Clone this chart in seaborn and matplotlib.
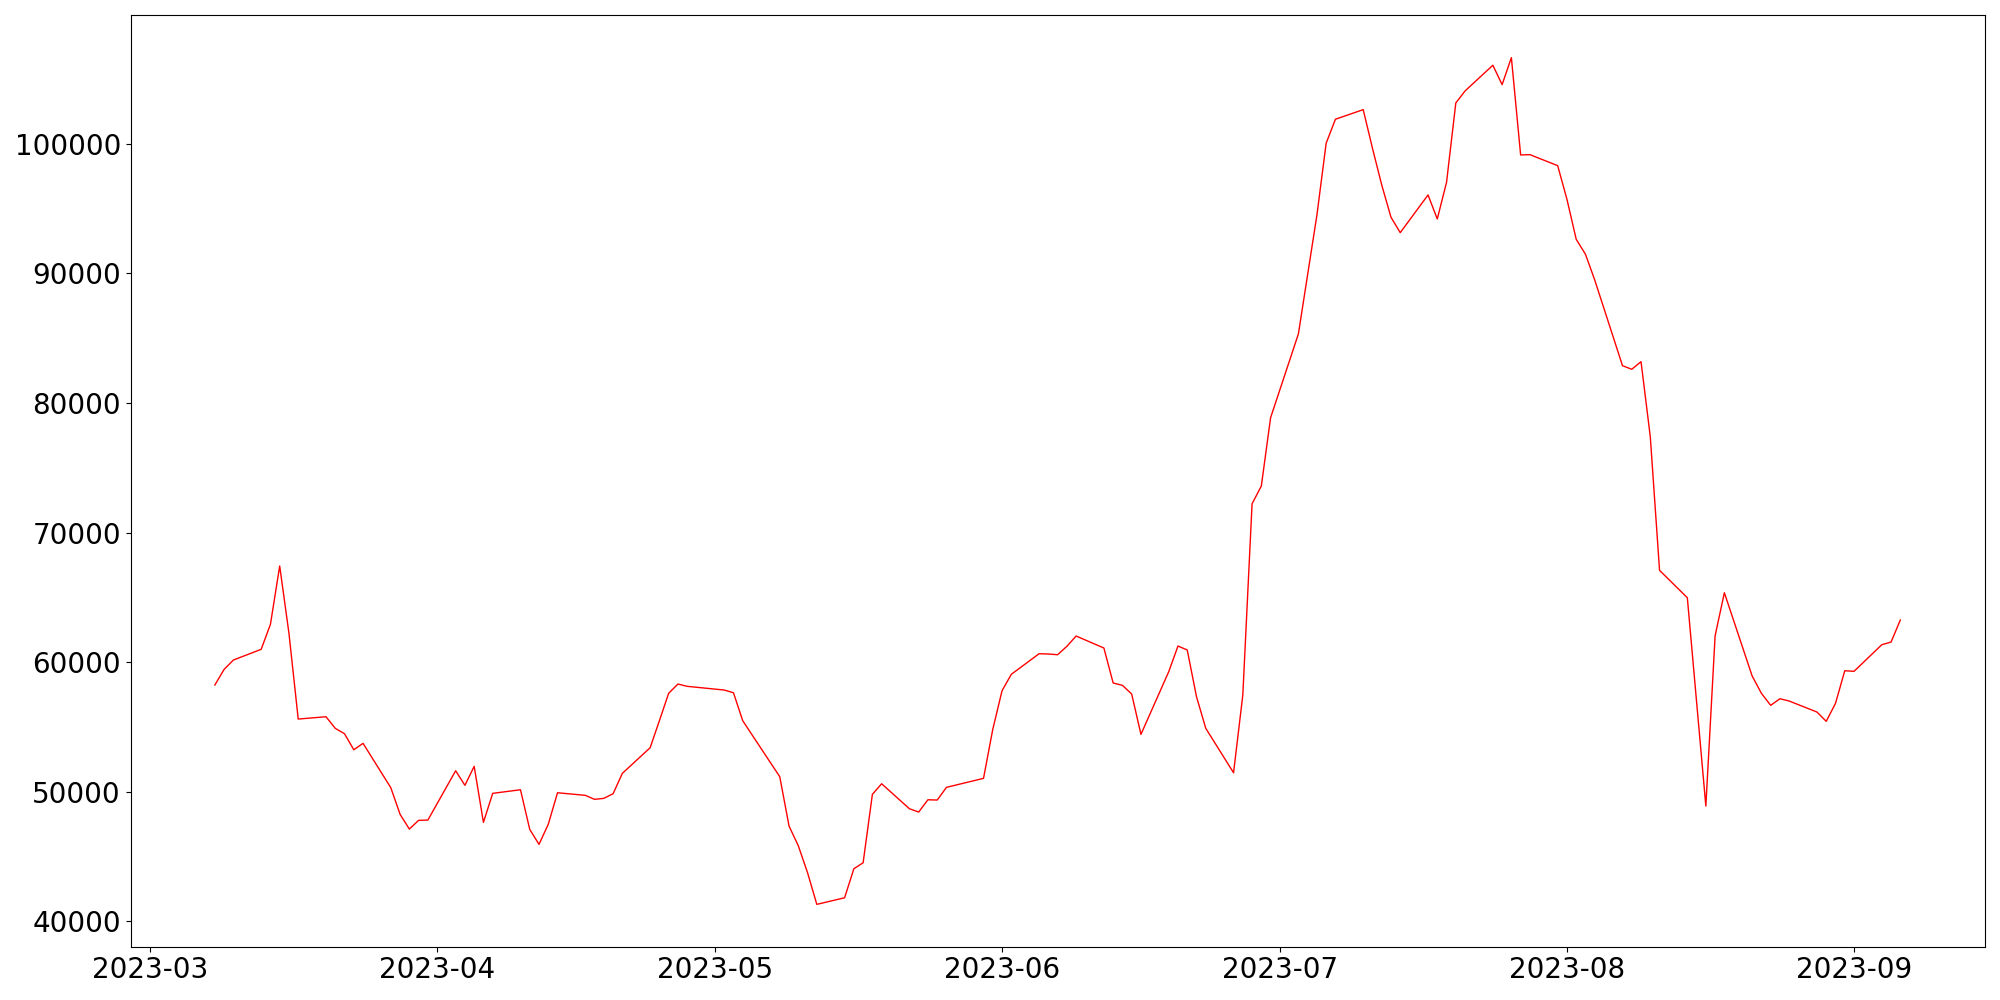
import matplotlib
matplotlib.use("Agg")
import matplotlib.pyplot as plt
import seaborn as sns
import pandas as pd

dates = [
    "2023-03-08", "2023-03-09", "2023-03-10", "2023-03-13", "2023-03-14", "2023-03-15",
    "2023-03-16", "2023-03-17", "2023-03-20", "2023-03-21", "2023-03-22", "2023-03-23",
    "2023-03-24", "2023-03-27", "2023-03-28", "2023-03-29", "2023-03-30", "2023-03-31",
    "2023-04-03", "2023-04-04", "2023-04-05", "2023-04-06", "2023-04-07", "2023-04-10",
    "2023-04-11", "2023-04-12", "2023-04-13", "2023-04-14", "2023-04-17", "2023-04-18",
    "2023-04-19", "2023-04-20", "2023-04-21", "2023-04-24", "2023-04-25", "2023-04-26",
    "2023-04-27", "2023-04-28", "2023-05-02", "2023-05-03", "2023-05-04", "2023-05-08",
    "2023-05-09", "2023-05-10", "2023-05-11", "2023-05-12", "2023-05-15", "2023-05-16",
    "2023-05-17", "2023-05-18", "2023-05-19", "2023-05-22", "2023-05-23", "2023-05-24",
    "2023-05-25", "2023-05-26", "2023-05-30", "2023-05-31", "2023-06-01", "2023-06-02",
    "2023-06-05", "2023-06-06", "2023-06-07", "2023-06-08", "2023-06-09", "2023-06-12",
    "2023-06-13", "2023-06-14", "2023-06-15", "2023-06-16", "2023-06-19", "2023-06-20",
    "2023-06-21", "2023-06-22", "2023-06-23", "2023-06-26", "2023-06-27", "2023-06-28",
    "2023-06-29", "2023-06-30", "2023-07-03", "2023-07-05", "2023-07-06", "2023-07-07",
    "2023-07-10", "2023-07-11", "2023-07-12", "2023-07-13", "2023-07-14", "2023-07-17",
    "2023-07-18", "2023-07-19", "2023-07-20", "2023-07-21", "2023-07-24", "2023-07-25",
    "2023-07-26", "2023-07-27", "2023-07-28", "2023-07-31", "2023-08-01", "2023-08-02",
    "2023-08-03", "2023-08-04", "2023-08-07", "2023-08-08", "2023-08-09", "2023-08-10",
    "2023-08-11", "2023-08-14", "2023-08-16", "2023-08-17", "2023-08-18", "2023-08-21",
    "2023-08-22", "2023-08-23", "2023-08-24", "2023-08-25", "2023-08-28", "2023-08-29",
    "2023-08-30", "2023-08-31", "2023-09-01", "2023-09-04", "2023-09-05", "2023-09-06",
]

values = [
    58224, 59436, 60154, 60981, 62911, 67413,
    62216, 55598, 55776, 54880, 54463, 53228,
    53722, 50293, 48239, 47104, 47776, 47799,
    51606, 50479, 51946, 47622, 49861, 50139,
    47081, 45923, 47467, 49907, 49707, 49398,
    49475, 49830, 51405, 53382, 55467, 57583,
    58301, 58124, 57838, 57629, 55467, 51143,
    47336, 45815, 43730, 41290, 41799, 44039,
    44502, 49784, 50602, 48672, 48417, 49367,
    49344, 50324, 51019, 54803, 57784, 59050,
    60641, 60620, 60564, 61212, 62008, 61081,
    58380, 58201, 57529, 54417, 59251, 61236,
    60927, 57320, 54880, 51452, 57452, 72216,
    73591, 78865, 85328, 94500, 100054, 101907,
    102649, 99668, 96834, 94340, 93151, 96062,
    94208, 97042, 103166, 104093, 106077, 104579,
    106664, 99151, 99174, 98324, 95730, 92641,
    91483, 89498, 82880, 82602, 83190, 77398,
    67081, 64965, 48880, 62031, 65351, 58919,
    57583, 56656, 57166, 56988, 56139, 55421,
    56811, 59328, 59282, 61336, 61544, 63243,
]

df = pd.DataFrame({"date": pd.to_datetime(dates), "value": values})

fig = plt.figure(figsize=(20, 10), dpi=100)
ax = fig.add_axes([0.0653, 0.0533, 0.9270, 0.9314])
sns.lineplot(data=df, x="date", y="value", ax=ax, color="red", linewidth=1)
ax.set_xlabel("")
ax.set_ylabel("")
ax.tick_params(axis="both", labelsize=20)
fig.savefig("out.png", dpi=100)
